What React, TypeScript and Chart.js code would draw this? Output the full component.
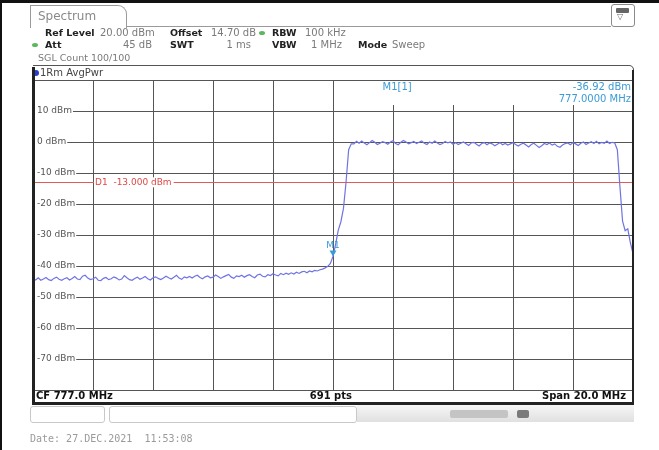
import React, { useEffect, useRef } from 'react';
import { Chart, registerables } from 'chart.js';

Chart.register(...registerables);

// ---- data ----
const sweepStartMHz = 767;
const sweepStopMHz = 787;
const xGridMHz = [767, 769, 771, 773, 775, 777, 779, 781, 783, 785, 787];
const yGridDbm = [20, 10, 0, -10, -20, -30, -40, -50, -60, -70, -80];
const yLabelDbm = [10, 0, -10, -20, -30, -40, -50, -60, -70];
const d1LineDbm = -13;
const markerMHz = 777;
const markerDbm = -36.92;

// trace, sampled every 3rd sweep point (231 of 691 pts)
const noiseFloorDbm = [
  -44.1, -44.5, -43.8, -44.6, -44.2, -43.7, -44.4, -44.7, -44.0, -43.6, -44.3, -44.6, -44.1, -43.8, -44.5, -44.0, -43.4, -44.2, -44.4, -43.3,
  -43.0, -43.9, -44.4, -44.1, -43.6, -44.6, -44.7, -44.0, -43.7, -44.4, -44.1, -43.5, -43.9, -44.5, -44.2, -43.1, -43.8, -44.4, -44.6, -44.0,
  -43.6, -44.3, -43.9, -43.4, -44.1, -44.5, -43.8, -43.5, -44.0, -44.4, -43.9, -43.3, -43.8, -44.2, -43.6, -43.0, -43.9, -44.3, -43.5, -43.8,
  -43.4, -43.9, -43.3, -43.0, -43.7, -44.1, -43.5, -43.2, -43.8, -43.6, -42.9, -43.4, -44.0, -43.5, -43.1, -42.7, -43.6, -44.0, -43.2, -43.4,
  -43.0, -43.6, -43.1, -42.8, -43.4, -43.8, -42.9, -42.6, -43.3, -43.5, -42.8, -43.1, -42.5, -42.9, -43.2, -42.4, -42.8, -42.3, -42.7, -42.2,
  -42.6, -42.0, -42.4, -41.9, -41.7, -42.2, -41.6, -41.9, -41.4, -41.6, -41.2, -41.0, -40.6, -40.1,
];
const lowerEdgeDbm = [-39.2, -36.92, -33.0, -28.5, -25.8, -21.5, -13.0, -2.5, -0.6];
const channelTopDbm = [
  -0.6, 0.2, -0.4, 0.3, -0.3, -0.9, -0.2, 0.5, -0.1, -0.8, -0.4, 0.1, -0.2, -0.7, 0.0, 0.4, -0.5, -0.9, -0.1, 0.5,
  0.0, -0.6, -0.2, 0.2, -0.5, -0.1, 0.3, -0.4, -0.8, 0.0, -0.4, 0.3, -0.3, -0.8, -0.5, 0.2, -0.3, 0.0, -0.7, -0.2,
  -0.8, -0.4, 0.0, -0.6, -1.1, -0.3, -0.1, -0.7, -1.3, -0.5, -0.2, -0.9, -0.3, -0.6, -1.2, -0.7, -0.2, -0.9, -0.5, -1.0,
  -0.6, -0.2, -0.8, -1.3, -0.7, -0.4, -1.0, -1.6, -0.8, -0.4, -1.1, -1.8, -1.2, -0.5, -0.8, -0.3, -1.0, -0.6, -1.4, -1.7,
  -1.0, -0.5, -0.3, -0.9, -0.2, -0.6, -1.1, -0.4, 0.0, -0.8, -0.3, 0.1, -0.5, 0.2, -0.6, -0.1, -0.4, 0.3, -0.5, -0.1, -0.3,
];
const upperEdgeDbm = [-2.5, -14.5, -25.5, -28.6, -28.0, -32.5, -36.0];

const traceDbm = [...noiseFloorDbm, ...lowerEdgeDbm, ...channelTopDbm, ...upperEdgeDbm];
const tracePoints = traceDbm.map((v, i) => ({
  x: sweepStartMHz + (i * (sweepStopMHz - sweepStartMHz)) / (traceDbm.length - 1),
  y: v,
}));

const FONT = '"DejaVu Sans", sans-serif';
const MARKER_BLUE = '#3a9bd6';

const overlayPlugin = {
  id: 'overlay',
  beforeDatasetsDraw(chart: any) {
    const { ctx, chartArea: a, scales } = chart;
    const xs = scales.x;
    const ys = scales.y;
    ctx.save();
    // marker info box background
    const mx = xs.getPixelForValue(markerMHz);
    ctx.fillStyle = '#ffffff';
    ctx.fillRect(mx + 1.5, a.top + 1, a.right - mx - 2, 24);
    // y labels with white backdrop
    ctx.font = `9px ${FONT}`;
    ctx.textBaseline = 'middle';
    ctx.textAlign = 'left';
    yLabelDbm.forEach((v) => {
      const py = ys.getPixelForValue(v);
      const t = `${v} dBm`;
      const w = ctx.measureText(t).width;
      ctx.fillStyle = '#ffffff';
      ctx.fillRect(a.left + 2, py - 5, w + 3, 10);
      ctx.fillStyle = '#555555';
      ctx.fillText(t, a.left + 4, py);
    });
    // D1 line
    const dy = ys.getPixelForValue(d1LineDbm);
    ctx.strokeStyle = '#e25a5a';
    ctx.lineWidth = 1;
    ctx.beginPath();
    ctx.moveTo(a.left, Math.round(dy) + 0.5);
    ctx.lineTo(a.right, Math.round(dy) + 0.5);
    ctx.stroke();
    const lbl = 'D1  -13.000 dBm';
    const lx = xs.getPixelForValue(769) + 2;
    const lw = ctx.measureText(lbl).width;
    ctx.fillStyle = '#ffffff';
    ctx.fillRect(lx - 1, dy - 5, lw + 3, 10);
    ctx.fillStyle = '#e04848';
    ctx.fillText(lbl, lx, dy);
    ctx.restore();
  },
  afterDatasetsDraw(chart: any) {
    const { ctx, chartArea: a, scales } = chart;
    const xs = scales.x;
    const ys = scales.y;
    ctx.save();
    const px = xs.getPixelForValue(markerMHz);
    const py = ys.getPixelForValue(markerDbm);
    ctx.fillStyle = MARKER_BLUE;
    ctx.beginPath();
    ctx.moveTo(px, py);
    ctx.lineTo(px - 3.5, py - 6);
    ctx.lineTo(px + 3.5, py - 6);
    ctx.closePath();
    ctx.fill();
    ctx.font = `9px ${FONT}`;
    ctx.textAlign = 'center';
    ctx.textBaseline = 'bottom';
    ctx.fillText('M1', px, py - 6);
    // marker info
    ctx.font = `10px ${FONT}`;
    ctx.textBaseline = 'middle';
    ctx.textAlign = 'left';
    ctx.fillText('M1[1]', xs.getPixelForValue(778.65), a.top + 7);
    ctx.textAlign = 'right';
    ctx.fillText(`${markerDbm.toFixed(2)} dBm`, a.right - 2, a.top + 7);
    ctx.fillText(`${markerMHz.toFixed(4)} MHz`, a.right - 2, a.top + 19);
    ctx.restore();
  },
};

type TProps = {
  x?: number;
  r?: number;
  cy: number;
  s?: number;
  b?: boolean;
  c?: string;
  mono?: boolean;
  children: React.ReactNode;
};

const T = ({ x, r, cy, s = 10, b = false, c = '#7a7a7a', mono = false, children }: TProps) => (
  <div
    style={{
      position: 'absolute',
      left: r === undefined ? x : undefined,
      right: r !== undefined ? 659 - r : undefined,
      top: cy - 7,
      height: 14,
      lineHeight: '14px',
      fontSize: s,
      fontWeight: b ? 'bold' : 'normal',
      color: c,
      whiteSpace: 'pre',
      fontFamily: mono ? '"DejaVu Sans Mono", monospace' : FONT,
    }}
  >
    {children}
  </div>
);

const Box = (p: React.CSSProperties) => <div style={{ position: 'absolute', ...p }} />;

export default function App() {
  const ref = useRef<HTMLCanvasElement>(null);

  useEffect(() => {
    const gridColor = '#555555';
    const chart = new Chart(ref.current as HTMLCanvasElement, {
      type: 'line',
      data: {
        datasets: [
          {
            data: tracePoints,
            borderColor: '#6f74e3',
            borderWidth: 1.2,
            pointRadius: 0,
            tension: 0,
            fill: false,
          },
        ],
      },
      options: {
        animation: false,
        responsive: false,
        maintainAspectRatio: false,
        layout: { padding: { left: 33, right: 26, top: 80, bottom: 60 } },
        plugins: { legend: { display: false }, tooltip: { enabled: false } },
        scales: {
          x: {
            type: 'linear',
            min: sweepStartMHz,
            max: sweepStopMHz,
            afterBuildTicks: (s: any) => {
              s.ticks = xGridMHz.map((v) => ({ value: v }));
            },
            ticks: { display: false },
            grid: { color: gridColor, lineWidth: 1, drawTicks: false },
            border: { display: false },
          },
          y: {
            type: 'linear',
            min: -80,
            max: 20,
            afterBuildTicks: (s: any) => {
              s.ticks = yGridDbm.map((v) => ({ value: v }));
            },
            ticks: { display: false },
            grid: { color: gridColor, lineWidth: 1, drawTicks: false },
            border: { display: false },
          },
        },
      },
      plugins: [overlayPlugin],
    } as any);
    return () => chart.destroy();
  }, []);

  const dark = '#222222';
  return (
    <div
      style={{
        position: 'fixed',
        left: 0,
        top: 0,
        width: 659,
        height: 450,
        background: '#ffffff',
        overflow: 'hidden',
        fontFamily: FONT,
      }}
    >
      <canvas
        ref={ref}
        width={659}
        height={450}
        style={{ position: 'absolute', left: 0, top: 0, width: 659, height: 450 }}
      />
      {/* outer frame */}
      <Box left={0} top={0} width={659} height={2.5} background="#111" />
      <Box left={0} top={0} width={2} height={450} background="#111" />

      {/* tab */}
      <Box
        left={30}
        top={5}
        width={95}
        height={22}
        borderLeft="1px solid #9a9a9a"
        borderTop="1px solid #9a9a9a"
        borderRight="1px solid #9a9a9a"
        borderTopRightRadius={9}
      />
      <T x={38} cy={16} s={12} c="#8a8a8a">Spectrum</T>
      <Box left={126} top={26} width={485} height={1} background="#9a9a9a" />
      <Box
        left={611}
        top={4}
        width={22}
        height={21}
        border="1px solid #8a8a8a"
        borderRadius={3}
        background="#fff"
      />
      <Box left={616} top={8} width={13} height={5} background="#666" borderRadius={1} />
      <T x={617} cy={17} s={8} c="#666">▽</T>

      {/* header */}
      <T x={45} cy={33} s={9.5} b c={dark}>Ref Level</T>
      <T x={100} cy={33}>20.00 dBm</T>
      <T x={170} cy={33} s={9.5} b c={dark}>Offset</T>
      <T x={211} cy={33}>14.70 dB</T>
      <Box left={259} top={31} width={6} height={4} borderRadius="50%" background="#5cb85c" />
      <T x={272} cy={33} s={9.5} b c={dark}>RBW</T>
      <T x={305} cy={33}>100 kHz</T>

      <Box left={32} top={43} width={6} height={4} borderRadius="50%" background="#5cb85c" />
      <T x={45} cy={45} s={9.5} b c={dark}>Att</T>
      <T r={152} cy={45}>45 dB</T>
      <T x={170} cy={45} s={9.5} b c={dark}>SWT</T>
      <T r={251} cy={45}>1 ms</T>
      <T x={272} cy={45} s={9.5} b c={dark}>VBW</T>
      <T r={342} cy={45}>1 MHz</T>
      <T x={358} cy={45} s={9.5} b c={dark}>Mode</T>
      <T x={392} cy={45}>Sweep</T>

      <T x={38} cy={58} s={9.5}>SGL Count 100/100</T>

      {/* trace label bar */}
      <Box
        left={33}
        top={65}
        width={600}
        height={15}
        borderTop="1px solid #555"
        borderRight="1px solid #444"
        borderTopRightRadius={5}
      />
      <Box left={33} top={69.5} width={6} height={6} borderRadius="50%" background="#2a3bd0" />
      <T x={40} cy={72.5} s={10} c="#444">1Rm AvgPwr</T>

      {/* panel borders */}
      <Box left={32} top={67} width={2.5} height={338} background={dark} />
      <Box left={631.5} top={70} width={2.5} height={335} background={dark} />
      <Box left={32} top={402} width={602} height={2.5} background={dark} />

      {/* bottom bar */}
      <T x={36} cy={396} b c="#111">CF 777.0 MHz</T>
      <T r={352} cy={396} b c="#111">691 pts</T>
      <T r={626} cy={396} b c="#111">Span 20.0 MHz</T>

      {/* softkey strip */}
      <Box left={30} top={406} width={73} height={15} border="1px solid #c8c8c8" borderRadius={3} />
      <Box left={109} top={406} width={246} height={15} border="1px solid #c8c8c8" borderRadius={3} />
      <Box left={357} top={405} width={277} height={17} background="linear-gradient(#f6f6f6, #e0e0e0)" />
      <Box left={450} top={410} width={58} height={8} background="#c4c4c4" borderRadius={2} />
      <Box left={517} top={410} width={12} height={8} background="#7a7a7a" borderRadius={2} />

      <T x={30} cy={439} s={10} mono c="#9a9a9a">Date: 27.DEC.2021  11:53:08</T>
    </div>
  );
}
